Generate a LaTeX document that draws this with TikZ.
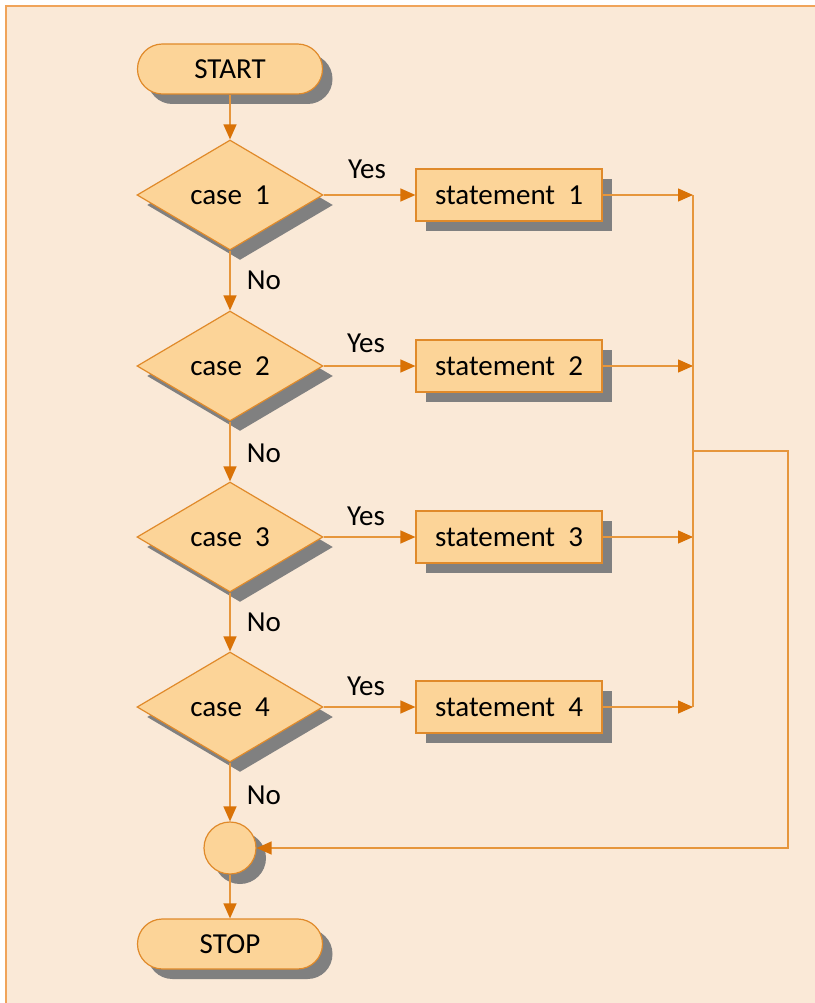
\documentclass[tikz,border=0pt]{standalone}
\usepackage{fontspec}
\setmainfont{Carlito}
\usetikzlibrary{shapes.geometric,shadows,arrows.meta}
\definecolor{bgc}{HTML}{FAE9D7}
\definecolor{bgborder}{HTML}{F0A45A}
\definecolor{nodefill}{HTML}{FCD498}
\definecolor{nodeborder}{HTML}{E08A2A}
\definecolor{linec}{HTML}{E6963C}
\definecolor{arrowc}{HTML}{D97206}
\definecolor{shadowc}{HTML}{808080}
\tikzset{
  shad/.style={drop shadow={shadow xshift=10pt, shadow yshift=-10pt, fill=shadowc, opacity=1}},
  base/.style={draw=nodeborder, line width=1.2pt, fill=nodefill, shad, inner sep=0pt, font=\fontsize{29}{34}\selectfont},
  terminal/.style={base, rectangle, rounded corners=24.9pt, minimum width=185pt, minimum height=50pt},
  decision/.style={base, diamond, minimum width=186pt, minimum height=110pt},
  stmt/.style={base, rectangle, minimum width=186pt, minimum height=52pt},
  joinnode/.style={base, circle, minimum size=52pt},
  conn/.style={draw=linec, line width=1.3pt},
  arr/.style={conn, -{Triangle[length=15pt, width=13pt, color=arrowc]}},
  lbl/.style={font=\fontsize{29}{34}\selectfont, inner sep=0pt}
}
\begin{document}
\begin{tikzpicture}[x=1pt, y=-1pt]
\useasboundingbox (0,0) rectangle (814,1003);
\path[fill=bgc, draw=bgborder, line width=1.5pt] (6,6) rectangle (840,1030);

\node[terminal] (start) at (230,69) {START};
\node[decision] (c1) at (230,195) {case~~1};
\node[decision] (c2) at (230,366) {case~~2};
\node[decision] (c3) at (230,537) {case~~3};
\node[decision] (c4) at (230,707) {case~~4};
\node[stmt] (s1) at (509,195) {statement~~1};
\node[stmt] (s2) at (509,366) {statement~~2};
\node[stmt] (s3) at (509,537) {statement~~3};
\node[stmt] (s4) at (509,707) {statement~~4};
\node[joinnode] (j) at (230,848) {};
\node[terminal] (stop) at (230,944) {STOP};

\coordinate (r1) at (693,195);
\coordinate (r2) at (693,366);
\coordinate (r3) at (693,537);
\coordinate (r4) at (693,707);
\coordinate (rm) at (693,451);
\coordinate (ra) at (788,451);
\coordinate (rb) at (788,848);

\node[lbl] (y1) at (367,169) {Yes};
\node[lbl] (y2) at (366,343) {Yes};
\node[lbl] (y3) at (366,516) {Yes};
\node[lbl] (y4) at (366,686) {Yes};
\node[lbl] (n1) at (264,280) {No};
\node[lbl] (n2) at (264,453) {No};
\node[lbl] (n3) at (264,622) {No};
\node[lbl] (n4) at (264,795) {No};

\draw[arr] (start) -- (c1);
\draw[arr] (c1) -- (c2);
\draw[arr] (c2) -- (c3);
\draw[arr] (c3) -- (c4);
\draw[arr] (c4) -- (j);
\draw[arr] (j) -- (stop);

\draw[arr] (c1) -- (s1);
\draw[arr] (c2) -- (s2);
\draw[arr] (c3) -- (s3);
\draw[arr] (c4) -- (s4);

\draw[arr] (s1) -- (r1);
\draw[arr] (s2) -- (r2);
\draw[arr] (s3) -- (r3);
\draw[arr] (s4) -- (r4);

\draw[conn] (r1) -- (r4);
\draw[arr] (rm) -- (ra) -- (rb) -- (j.east);
\end{tikzpicture}
\end{document}
